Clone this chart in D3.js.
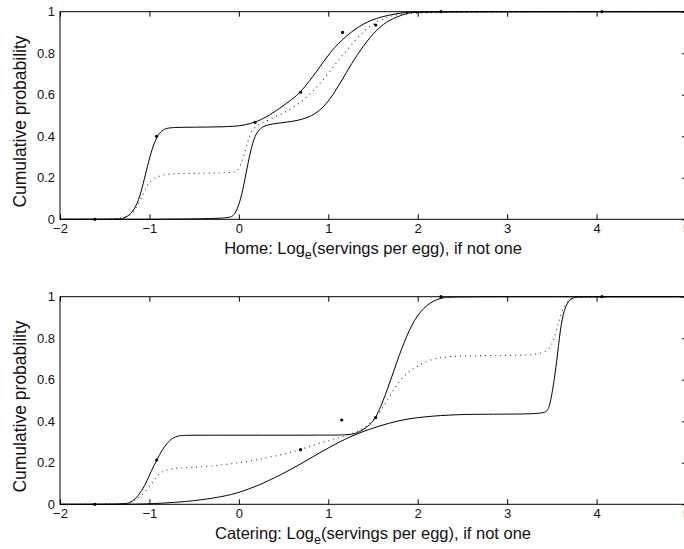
<!DOCTYPE html>
<html>
<head>
<meta charset="utf-8">
<script src="https://cdn.jsdelivr.net/npm/d3@7"></script>
<style>
  body { margin: 0; background: #fff; overflow: hidden; }
  svg { display: block; font-family: "Liberation Sans", Arial, Helvetica, sans-serif; }
</style>
</head>
<body>
<div id="chart"></div>
<script>
"use strict";

// data *******************************************************************
var xTickValues = [-2, -1, 0, 1, 2, 3, 4, 5];
var xTickLabels = ["\u22122", "\u22121", "0", "1", "2", "3", "4", "5"];
var yTickValues = [0, 0.2, 0.4, 0.6, 0.8, 1];
var yTickLabels = ["0", "0.2", "0.4", "0.6", "0.8", "1"];

// Home panel
var homeLeftCurve = [[-2,0],[-1.36,0],[-1.3,0.003],[-1.24,0.015],[-1.18,0.04],[-1.12,0.09],[-1.07,0.17],
  [-1.02,0.26],[-0.97,0.34],[-0.918,0.398],[-0.86,0.43],[-0.8,0.44],[-0.7,0.443],[-0.4,0.444],[-0.1,0.446],
  [0.05,0.452],[0.18,0.467],[0.3,0.49],[0.46,0.535],[0.6,0.58],[0.692,0.612],[0.871,0.711],[1.02,0.807],
  [1.207,0.888],[1.393,0.944],[1.58,0.976],[1.84,0.997],[2.0,1],[5,1]];
var homeRightCurve = [[-2,0],[-0.14,0],[-0.06,0.015],[-0.02,0.045],[0.03,0.11],[0.08,0.22],[0.13,0.33],
  [0.18,0.405],[0.24,0.44],[0.32,0.456],[0.46,0.464],[0.72,0.478],[0.908,0.518],[1.057,0.599],[1.207,0.711],
  [1.319,0.791],[1.468,0.88],[1.617,0.944],[1.766,0.976],[1.9,0.995],[2.0,1],[5,1]];
var homeMixCurve = [[-2,0],[-1.3,0],[-1.2,0.02],[-1.105,0.085],[-1.03,0.165],[-0.95,0.2],[-0.85,0.215],
  [-0.7,0.221],[-0.3,0.222],[-0.05,0.225],[0.0,0.237],[0.05,0.3],[0.088,0.358],[0.125,0.41],[0.162,0.438],
  [0.237,0.462],[0.46,0.502],[0.72,0.566],[0.945,0.671],[1.13,0.776],[1.32,0.872],[1.468,0.936],
  [1.69,0.984],[2.0,1],[5,1]];
var homePointsX = [-1.61, -0.92, 0.18, 0.69, 1.16, 1.53, 2.26, 4.06];
var homePointsY = [0, 0.40, 0.467, 0.612, 0.90, 0.936, 1.0, 1.0];

// Catering panel
var cateringLeftCurve = [[-2,0],[-1.3,0],[-1.22,0.006],[-1.16,0.025],[-1.1,0.055],[-1.04,0.1],[-0.98,0.16],
  [-0.918,0.213],[-0.86,0.26],[-0.8,0.297],[-0.74,0.32],[-0.68,0.33],[-0.6,0.333],[0,0.333],[1.0,0.333],
  [1.207,0.334],[1.3,0.34],[1.356,0.35],[1.468,0.382],[1.542,0.422],[1.654,0.542],[1.766,0.687],
  [1.878,0.815],[1.99,0.912],[2.139,0.976],[2.288,0.997],[2.4,1],[5,1]];
var cateringSlowCurve = [[-2,0],[-1.2,0],[-1,0.002],[-0.545,0.013],[-0.172,0.037],[0.013,0.058],[0.2,0.088],
  [0.349,0.117],[0.573,0.165],[0.796,0.221],[1.02,0.277],[1.244,0.326],[1.356,0.345],[1.542,0.374],
  [1.803,0.406],[2.064,0.422],[2.437,0.433],[2.81,0.434],[3.406,0.435],[3.45,0.45],[3.48,0.478],
  [3.537,0.623],[3.574,0.767],[3.612,0.896],[3.668,0.976],[3.742,0.997],[3.8,1],[5,1]];
var cateringMixCurve = [[-2,0],[-1.25,0],[-1.18,0.01],[-1.03,0.061],[-0.918,0.141],[-0.806,0.173],[-0.545,0.176],
  [-0.172,0.189],[0.2,0.213],[0.349,0.229],[0.573,0.246],[0.945,0.302],[1.319,0.342],[1.505,0.398],
  [1.654,0.494],[1.803,0.607],[1.952,0.655],[2.139,0.703],[2.437,0.716],[3.0,0.717],[3.443,0.719],
  [3.518,0.783],[3.574,0.88],[3.63,0.952],[3.705,0.992],[3.76,1],[5,1]];
var cateringPointsX = [-1.61, -0.92, 0.69, 1.15, 1.53, 2.26, 4.06];
var cateringPointsY = [0, 0.213, 0.263, 0.406, 0.418, 1.0, 1.0];

// layout ********************************************************************
var width = 700, height = 549;
var plotLeft = 60, plotRight = 686;

var panels = [
  { top: 11.7, bottom: 219.3, title: "Home: Log", solids: [homeLeftCurve, homeRightCurve],
    dotted: homeMixCurve, px: homePointsX, py: homePointsY },
  { top: 296.7, bottom: 504.3, title: "Catering: Log", solids: [cateringLeftCurve, cateringSlowCurve],
    dotted: cateringMixCurve, px: cateringPointsX, py: cateringPointsY }
];

var svg = d3.select("#chart").append("svg")
  .attr("width", width)
  .attr("height", height);

var x = d3.scaleLinear().domain([-2, 5]).range([plotLeft, plotRight]);

panels.forEach(function(p) {
  var y = d3.scaleLinear().domain([0, 1]).range([p.bottom, p.top]);
  var g = svg.append("g");

  var line = d3.line()
    .x(function(d) { return x(d[0]); })
    .y(function(d) { return y(d[1]); })
    .curve(d3.curveBasis);

  // curves
  g.append("path")
    .attr("d", line(p.dotted))
    .attr("fill", "none")
    .attr("stroke", "#333")
    .attr("stroke-width", 1.1)
    .attr("stroke-dasharray", "1,4");

  p.solids.forEach(function(c) {
    g.append("path")
      .attr("d", line(c))
      .attr("fill", "none")
      .attr("stroke", "#000")
      .attr("stroke-width", 1);
  });

  g.selectAll("circle.pt")
    .data(d3.range(p.px.length))
    .enter().append("circle")
    .attr("class", "pt")
    .attr("cx", function(i) { return x(p.px[i]); })
    .attr("cy", function(i) { return y(p.py[i]); })
    .attr("r", 1.6)
    .attr("fill", "#000");

  // box
  g.append("rect")
    .attr("x", plotLeft).attr("y", p.top)
    .attr("width", plotRight - plotLeft).attr("height", p.bottom - p.top)
    .attr("fill", "none").attr("stroke", "#000").attr("stroke-width", 1);

  // axes with inward ticks
  var bottomAxis = d3.axisBottom(x).tickValues(xTickValues)
    .tickFormat(function(d, i) { return xTickLabels[i]; })
    .tickSizeInner(-5).tickSizeOuter(0).tickPadding(4);
  var ga = g.append("g").attr("transform", "translate(0," + p.bottom + ")").call(bottomAxis);
  ga.selectAll("text").style("font-size", "13px").attr("fill", "#111");

  var topAxis = d3.axisTop(x).tickValues(xTickValues).tickFormat("")
    .tickSizeInner(-5).tickSizeOuter(0);
  g.append("g").attr("transform", "translate(0," + p.top + ")").call(topAxis);

  var leftAxis = d3.axisLeft(y).tickValues(yTickValues)
    .tickFormat(function(d, i) { return yTickLabels[i]; })
    .tickSizeInner(0).tickSizeOuter(0).tickPadding(5);
  var gl = g.append("g").attr("transform", "translate(" + plotLeft + ",0)").call(leftAxis);
  gl.selectAll("text").style("font-size", "13px").attr("fill", "#111");

  var rightAxis = d3.axisRight(y).tickValues(yTickValues).tickFormat("")
    .tickSizeInner(-4).tickSizeOuter(0);
  g.append("g").attr("transform", "translate(" + plotRight + ",0)").call(rightAxis);

  g.selectAll(".domain").remove();
  g.selectAll(".tick line").attr("stroke", "#000");

  // axis titles
  var t = g.append("text")
    .attr("x", (plotLeft + plotRight) / 2)
    .attr("y", p.bottom + 34.7)
    .attr("text-anchor", "middle")
    .style("font-size", "16.5px")
    .attr("fill", "#111");
  t.append("tspan").text(p.title);
  t.append("tspan").attr("dy", 5).style("font-size", "12.5px").text("e");
  t.append("tspan").attr("dy", -5).text("(servings per egg), if not one");

  g.append("text")
    .attr("transform", "translate(26," + ((p.top + p.bottom) / 2 + 6) + ") rotate(-90)")
    .attr("text-anchor", "middle")
    .style("font-size", "17.5px")
    .attr("fill", "#111")
    .text("Cumulative probability");
});
</script>
</body>
</html>
